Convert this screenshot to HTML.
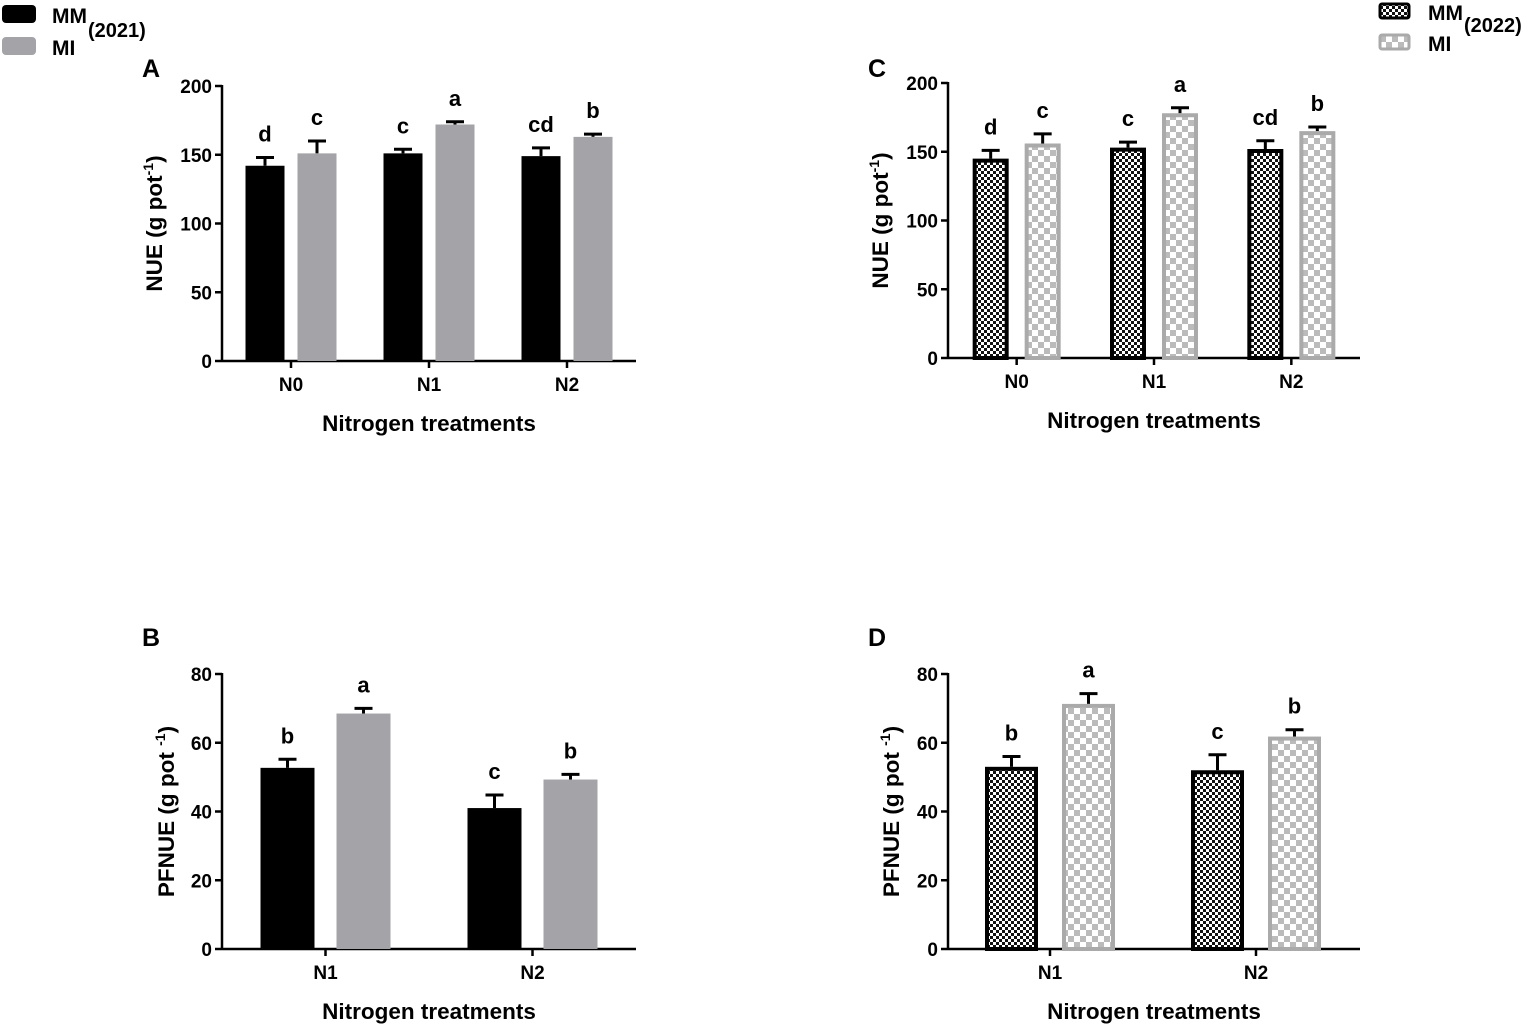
<!DOCTYPE html>
<html><head><meta charset="utf-8"><style>
body{margin:0;background:#fff}
svg{display:block;font-family:"Liberation Sans",Arial,sans-serif;font-weight:bold}
</style></head><body>
<svg id="c" width="1535" height="1025">
<defs>
<pattern id="pmm" width="6" height="6" patternUnits="userSpaceOnUse"><rect width="6" height="6" fill="#fff"/><rect width="3" height="3" fill="#111"/><rect x="3" y="3" width="3" height="3" fill="#111"/></pattern>
<pattern id="pmi" width="12" height="12" patternUnits="userSpaceOnUse"><rect width="12" height="12" fill="#fff"/><rect width="6" height="6" fill="#bbb"/><rect x="6" y="6" width="6" height="6" fill="#bbb"/></pattern>
</defs>
</svg>
<script>
const catsA=["N0","N1","N2"], mmA=[142,151,149], miA=[151,172,163], mmAe=[6,3,6], miAe=[9,2,2], lmmA=["d","c","cd"], lmiA=["c","a","b"];
const catsC=["N0","N1","N2"], mmC=[145,153,152], miC=[156,178,165], mmCe=[6,4,6], miCe=[7,4,3], lmmC=["d","c","cd"], lmiC=["c","a","b"];
const catsB=["N1","N2"], mmB=[52.7,41], miB=[68.5,49.3], mmBe=[2.5,3.8], miBe=[1.5,1.5], lmmB=["b","c"], lmiB=["a","b"];
const catsD=["N1","N2"], mmD=[53,52], miD=[71.3,61.8], mmDe=[3,4.5], miDe=[3,2], lmmD=["b","c"], lmiD=["a","b"];
const ticksNUE=[0,50,100,150,200], ticksPF=[0,20,40,60,80];
const svg=document.getElementById('c'), NS='http://www.w3.org/2000/svg';
function el(t,a,txt,p){const e=document.createElementNS(NS,t);for(const k in a)e.setAttribute(k,a[k]);if(txt!=null)e.textContent=txt;(p||svg).appendChild(e);return e;}
function panel(o){
  const g=el('g',{});
  
  
  const y=v=>o.y0-(v/o.max)*(o.y0-o.ytop);
  const n=o.cats.length, gw=(o.xend-o.ax)/n;
  el('line',{x1:o.ax,y1:o.ytop-1,x2:o.ax,y2:o.y0,stroke:'#000','stroke-width':2.5},null,g);
  el('line',{x1:o.ax,y1:o.y0,x2:o.xend,y2:o.y0,stroke:'#000','stroke-width':2.5},null,g);
  o.ticks.forEach(t=>{el('line',{x1:o.ax-7,y1:y(t),x2:o.ax,y2:y(t),stroke:'#000','stroke-width':2.5},null,g);
    const tl=el('text',{x:o.ax-10,y:y(t)+7,'text-anchor':'end','font-size':19},t,g);
    });
  o.cats.forEach((c,i)=>{
    const cx=o.ax+gw*(i+0.5)+o.shift;
    el('line',{x1:cx,y1:o.y0,x2:cx,y2:o.y0+7,stroke:'#000','stroke-width':2.5},null,g);
    const xl=el('text',{x:cx,y:o.y0+30,'text-anchor':'middle','font-size':19},c,g);
    
    [[o.mm,o.mme,o.lmm,-1,'mm'],[o.mi,o.mie,o.lmi,1,'mi']].forEach(([vals,errs,labs,s,k])=>{
      const bx=s<0?cx-o.gap/2-o.bw:cx+o.gap/2, v=vals[i], top=y(v), et=y(v+errs[i]), mid=bx+o.bw/2;
      const col=k=='mm'?'#000':(o.pat?'#aaa':'#a3a3a8');
      el('line',{x1:mid,y1:top,x2:mid,y2:et,stroke:'#000','stroke-width':3},null,g);
      el('line',{x1:mid-9,y1:et,x2:mid+9,y2:et,stroke:'#000','stroke-width':3},null,g);
      let r;
      if(o.pat) r=el('rect',{x:bx+2,y:top+2,width:o.bw-4,height:o.y0-top-2,fill:'url(#p'+k+')',stroke:col,'stroke-width':4},null,g);
      else r=el('rect',{x:bx,y:top,width:o.bw,height:o.y0-top,fill:col},null,g);
      
      const lt=el('text',{x:mid,y:et-16,'text-anchor':'middle','font-size':22},labs[i],g);
      
    });
  });
  const xt=el('text',{x:(o.ax+o.xend)/2,y:o.y0+70,'text-anchor':'middle','font-size':22.5},'Nitrogen treatments',g);
  
  const yc=(o.y0+o.ytop)/2;
  const yt=el('text',{transform:`translate(${o.ylx},${yc}) rotate(-90)`,'text-anchor':'middle','font-size':22.5},null,g);
  
  el('tspan',{},o.ytitle,yt);el('tspan',{'font-size':14,dy:-9},'-1',yt);el('tspan',{dy:9},')',yt);
  const pl=el('text',{x:o.lx,y:o.ly,'font-size':25},o.id,g);
  
}
panel({id:'A',cats:catsA,mm:mmA,mi:miA,mme:mmAe,mie:miAe,lmm:lmmA,lmi:lmiA,ax:222,xend:636,y0:361,ytop:86,max:200,ticks:ticksNUE,bw:39,gap:13,shift:0,pat:false,ytitle:'NUE (g pot',ylx:162,lx:142,ly:77});
panel({id:'C',cats:catsC,mm:mmC,mi:miC,mme:mmCe,mie:miCe,lmm:lmmC,lmi:lmiC,ax:948,xend:1360,y0:358,ytop:83,max:200,ticks:ticksNUE,bw:36,gap:16,shift:0,pat:true,ytitle:'NUE (g pot',ylx:888,lx:868,ly:77});
panel({id:'B',cats:catsB,mm:mmB,mi:miB,mme:mmBe,mie:miBe,lmm:lmmB,lmi:lmiB,ax:222,xend:636,y0:949,ytop:674,max:80,ticks:ticksPF,bw:54,gap:22,shift:0,pat:false,ytitle:'PFNUE (g pot ',ylx:174,lx:142,ly:646});
panel({id:'D',cats:catsD,mm:mmD,mi:miD,mme:mmDe,mie:miDe,lmm:lmmD,lmi:lmiD,ax:948,xend:1360,y0:949,ytop:674,max:80,ticks:ticksPF,bw:53,gap:24,shift:-1,pat:true,ytitle:'PFNUE (g pot ',ylx:899,lx:868,ly:646});
function leg(x,y,fill,stroke,label,pat){
  const r=el('rect',pat?{x:x+2,y:y+2,width:29,height:14,fill:fill,stroke:stroke,'stroke-width':3,rx:2}:{x:x,y:y,width:34,height:18,fill:fill,rx:4});
  
  const t=el('text',{x:x+50,y:y+18,'font-size':21},label);
  
}
leg(2,5,'#000',null,'MM',false);leg(2,37,'#a3a3a8',null,'MI',false);
const y1=el('text',{x:88,y:37,'font-size':20},'(2021)');
leg(1378,2,'url(#pmm)','#000','MM',true);leg(1378,33,'url(#pmi)','#aaa','MI',true);
const y2=el('text',{x:1464,y:32,'font-size':20},'(2022)');
</script>
</body></html>
